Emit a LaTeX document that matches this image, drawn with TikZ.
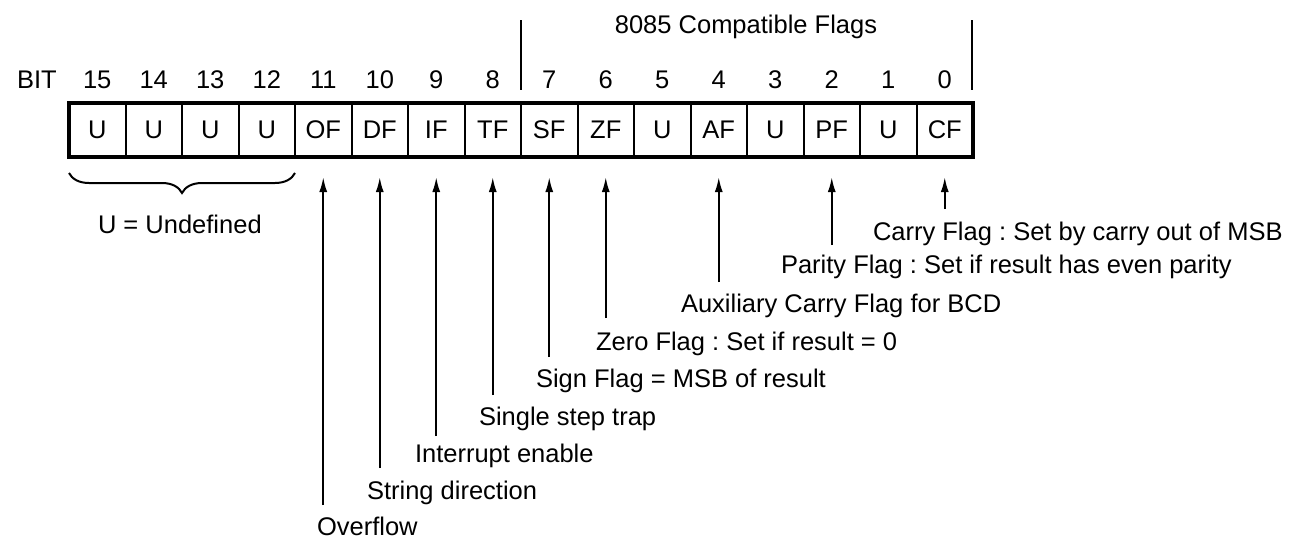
\documentclass[tikz,border=0pt]{standalone}
\usepackage{fontspec}
\setmainfont{Liberation Sans}
\usetikzlibrary{arrows.meta,decorations.pathreplacing}
\newcommand\mylbl{\fontsize{25.5pt}{30pt}\selectfont}
\frenchspacing
\begin{document}
\begin{tikzpicture}[x=1pt,y=-1pt,
  every node/.style={font=\mylbl, inner sep=0pt, outer sep=0pt},
  cell/.style={draw, line width=2pt, minimum width=56.5pt, minimum height=54pt},
  bitnum/.style={},
  lab/.style={anchor=base west},
  arr/.style={line width=2pt, -{Latex[length=15pt,width=8pt]}, shorten >=20pt},
  sepline/.style={line width=2pt},
  bracestyle/.style={line width=2pt, decorate, decoration={brace, amplitude=20pt}}
  ]
\useasboundingbox (0,0) rectangle (1305,538);
% cells and bit numbers
\foreach \t [count=\i from 0] in {U,U,U,U,OF,DF,IF,TF,SF,ZF,U,AF,U,PF,U,CF} {
  \pgfmathtruncatemacro\bb{15-\i}
  \node[cell] (c\bb) at ({69+56.5*(\i+0.5)},130) {\t};
  \node[bitnum] (b\bb) at ({69+56.5*(\i+0.5)},80) {\bb};
}
\draw[line width=4pt] (c15.north west) rectangle (c0.south east);
\node[anchor=base west] (bitlbl) at (17,88) {BIT};
% 8085 compatible flags
\draw[sepline] (521,20) -- (521,90);
\draw[sepline] (972,20) -- (972,90);
\node[anchor=base] (compat) at (746,33) {8085 Compatible Flags};
% brace
\draw[bracestyle] (295,173) -- (69,173);
\node[anchor=base west] (undef) at (98,233) {U = Undefined};
% labels and arrows
\foreach \b/\e/\txt/\lx/\ly in {
  11/505/Overflow/317/535,
  10/468/String direction/367/499,
  9/436/Interrupt enable/415/462,
  8/395/Single step trap/479/425,
  7/357/Sign Flag = MSB of result/536/387,
  6/318/Zero Flag : Set if result = 0/596/350,
  4/282/Auxiliary Carry Flag for BCD/681/312,
  2/245/Parity Flag : Set if result has even parity/781/273,
  0/209/Carry Flag : Set by carry out of MSB/873/240} {
  \node[lab] (l\b) at (\lx,\ly) {\txt};
  \coordinate (e\b) at ({69+56.5*(15-\b+0.5)},\e);
  \draw[arr] (e\b) -- (c\b);
}
\end{tikzpicture}
\end{document}
